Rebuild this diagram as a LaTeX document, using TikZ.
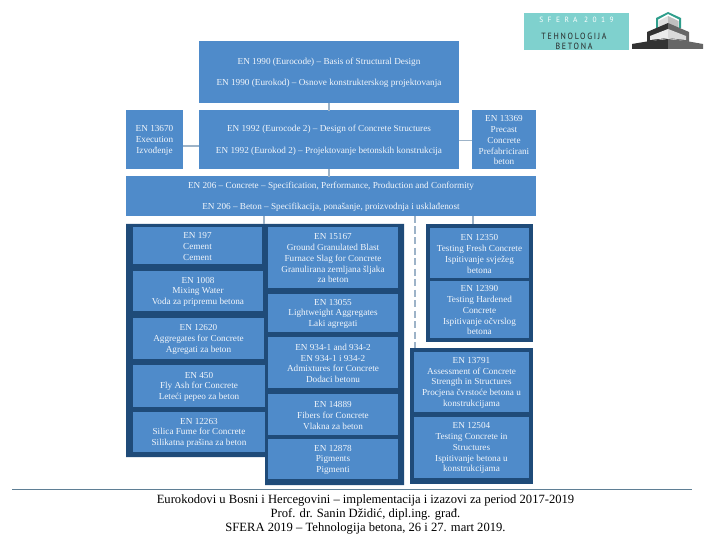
\documentclass[tikz,border=0pt]{standalone}
\usepackage{fontspec}
\setmainfont{Liberation Serif}
\newfontfamily\logofont[LetterSpace=22]{PT Sans}
\newfontfamily\logofontb[LetterSpace=60]{PT Sans}
\definecolor{boxblue}{HTML}{4F8BCA}
\definecolor{darkblue}{HTML}{1F4B79}
\definecolor{conn}{HTML}{9DB3C8}
\definecolor{logoteal}{HTML}{7FD1CE}
\definecolor{hexteal}{HTML}{2F9E8C}
\definecolor{txtwhite}{HTML}{F2F6FB}
\definecolor{rulecol}{HTML}{5F7F95}
\tikzset{
  stdbox/.style={fill=boxblue,draw=none,inner sep=0pt,align=center,text=txtwhite,font=\fontsize{9.2}{10.8}\selectfont},
  link/.style={draw=conn,line width=1.1pt},
  dashlink/.style={draw=conn,line width=1.2pt,dash pattern=on 7pt off 3.5pt},
  panel/.style={fill=darkblue,draw=none},
  footer/.style={align=center,text=black,inner sep=0pt,font=\fontsize{12.6}{14.4}\selectfont}
}
\newcommand{\bx}[6]{%
  \fill[boxblue] (#2,#3) rectangle (#4,#5);
  \node[stdbox,fill=none,minimum width={(#4-#2)*1pt},minimum height={(#5-#3)*1pt},yshift=-0.8pt] (#1) at ({(#2+#4)/2},{(#3+#5)/2}) {#6};
}
\begin{document}
\begin{tikzpicture}[x=1pt,y=-1pt]
\useasboundingbox (0,0) rectangle (720,540);
% panels
\fill[panel] (126,224) -- (404,224) -- (404,485) -- (265,485) -- (265,457) -- (126,457) -- cycle;
\fill[panel] (426,224) rectangle (533,342);
\fill[panel] (410,348) rectangle (533,484);
% boxes
\bx{a}{199}{41}{459}{103}{EN 1990 (Eurocode) – Basis of Structural Design\\[10.5pt]EN 1990 (Eurokod) – Osnove konstrukterskog projektovanja}
\bx{b}{199}{110}{459}{169}{EN 1992 (Eurocode 2) – Design of Concrete Structures\\[10.5pt]EN 1992 (Eurokod 2) – Projektovanje betonskih konstrukcija}
\bx{c}{126}{110}{183}{169}{EN 13670\\Execution\\Izvođenje}
\bx{d}{472}{110}{536}{169}{EN 13369\\Precast\\Concrete\\Prefabricirani\\beton}
\bx{e}{126}{176}{536}{216}{EN 206 – Concrete – Specification, Performance, Production and Conformity\\[10.5pt]EN 206 – Beton – Specifikacija, ponašanje, proizvodnja i usklađenost}
\bx{l1}{133}{227}{262}{264}{EN 197\\Cement\\Cement}
\bx{l2}{133}{271}{263}{311}{EN 1008\\Mixing Water\\Voda za pripremu betona}
\bx{l3}{133}{318}{264}{359}{EN 12620\\Aggregates for Concrete\\Agregati za beton}
\bx{l4}{133}{365}{265}{407}{EN 450\\Fly Ash for Concrete\\Leteći pepeo za beton}
\bx{l5}{133}{412}{265}{452}{EN 12263\\Silica Fume for Concrete\\Silikatna prašina za beton}
\bx{m1}{268}{227}{398}{288}{EN 15167\\Ground Granulated Blast\\Furnace Slag for Concrete\\Granulirana zemljana šljaka\\za beton}
\bx{m2}{268}{294}{398}{332}{EN 13055\\Lightweight Aggregates\\Laki agregati}
\bx{m3}{268}{337}{398}{388}{EN 934-1 and 934-2\\EN 934-1 i 934-2\\Admixtures for Concrete\\Dodaci betonu}
\bx{m4}{268}{394}{398}{435}{EN 14889\\Fibers for Concrete\\Vlakna za beton}
\bx{m5}{268}{439}{398}{479}{EN 12878\\Pigments\\Pigmenti}
\bx{r1}{430}{228}{529}{278}{EN 12350\\Testing Fresh Concrete\\Ispitivanje svježeg\\betona}
\bx{r2}{430}{281}{529}{338}{EN 12390\\Testing Hardened\\Concrete\\Ispitivanje očvrslog\\betona}
\bx{r3}{414}{352}{529}{412}{EN 13791\\Assessment of Concrete\\Strength in Structures\\Procjena čvrstoće betona u\\konstrukcijama}
\bx{r4}{414}{417}{529}{478}{EN 12504\\Testing Concrete in\\Structures\\Ispitivanje betona u\\konstrukcijama}
% connectors
\coordinate (p1) at (264,224);
\coordinate (p2) at (473,224);
\coordinate (p3) at (415,348);
\coordinate (e1) at (264,216);
\coordinate (e2) at (473,216);
\coordinate (e3) at (415,216);
\draw[link] ([yshift=0.8pt]a.south) -- (b.north);
\draw[link] ([yshift=0.8pt]b.south) -- (b.south |- e.north);
\draw[link] ([yshift=-5.7pt]c.east) -- ([yshift=-5.7pt]c.east -| b.west);
\draw[link] (b.east) -- (d.west);
\draw[link] (e1) -- (p1);
\draw[link] (e2) -- (p2);
\draw[dashlink] (e3) -- (p3);
% logo
\node[fill=logoteal,minimum width=105pt,minimum height=37pt,inner sep=0pt] (logo) at (576.5,31.5) {};
\node[text=white,inner sep=0pt,transform shape,xscale=0.98,font=\logofontb\fontsize{7.6}{8}\selectfont] (logot1) at (576.5,20) {SFERA 2019};
\node[text=black!85,inner sep=0pt,align=center,transform shape,xscale=0.88,font=\logofont\fontsize{9}{10.2}\selectfont] (logot2) at (574,41) {TEHNOLOGIJA\\BETONA};
\fill[hexteal] (656,28) -- (656,18) -- (668,12) -- (681,18) -- (681,28) -- (679,28) -- (679,19.5) -- (668,14) -- (658,19.5) -- (658,28) -- cycle;
\fill[black!12] (658.5,28) -- (658.5,21) -- (668,16) -- (668,28) -- cycle;
\fill[black!25] (668,16) -- (678.5,21) -- (678.5,28) -- (668,28) -- cycle;
\fill[black!80] (647,32) -- (668,23) -- (668,38) -- (647,42) -- cycle;
\fill[black!60] (668,23) -- (689,32) -- (689,42) -- (668,38) -- cycle;
\fill[black!8] (650,36) -- (668,29) -- (668,38) -- (650,40) -- cycle;
\fill[black!15] (668,29) -- (686,36) -- (686,40) -- (668,38) -- cycle;
\fill[black!80] (632,44) -- (650,41) -- (668,39) -- (668,49) -- (632,49) -- cycle;
\fill[black!60] (668,39) -- (686,41) -- (703,44) -- (703,49) -- (668,49) -- cycle;
% footer
\coordinate (fl) at (12,489);
\coordinate (fr) at (692,489);
\draw[draw=rulecol,line width=0.9pt] (fl) -- (fr);
\node[footer] (foot) at (365.5,514.5) {Eurokodovi u Bosni i Hercegovini – implementacija i izazovi za period 2017-2019\\Prof. dr. Sanin Džidić, dipl.ing. građ.\\SFERA 2019 – Tehnologija betona, 26 i 27. mart 2019.};
\end{tikzpicture}
\end{document}
